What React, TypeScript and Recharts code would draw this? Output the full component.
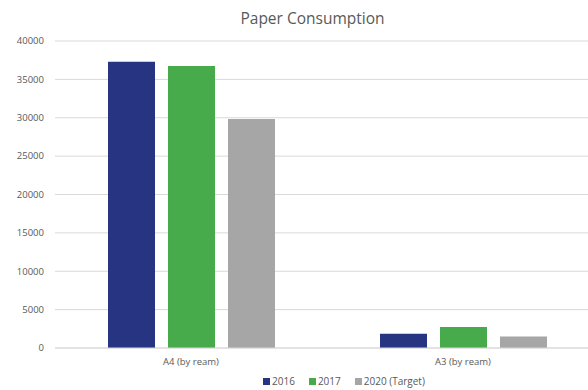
import React from 'react';
import { BarChart, Bar, XAxis, YAxis, CartesianGrid } from 'recharts';

const categories = ['A4 (by ream)', 'A3 (by ream)'];
const series2016 = [37300, 1850];
const series2017 = [36750, 2750];
const series2020 = [29850, 1500];
const yTicks = [0, 5000, 10000, 15000, 20000, 25000, 30000, 35000, 40000];
const seriesNames = ['2016', '2017', '2020 (Target)'];
const colors = ['#263482', '#47AB4B', '#A6A6A6'];

const data = categories.map((c, i) => ({
  cat: c,
  s2016: series2016[i],
  s2017: series2017[i],
  s2020: series2020[i],
}));

const FONT = '"Open Sans", "DejaVu Sans", sans-serif';

export default function App() {
  return (
    <div
      style={{
        position: 'absolute',
        left: 0,
        top: 0,
        width: 588,
        height: 390,
        overflow: 'hidden',
        background: '#ffffff',
        fontFamily: FONT,
      }}
    >
      <div
        style={{
          position: 'absolute',
          left: 0,
          top: 8,
          width: 625,
          textAlign: 'center',
          fontSize: 15.5,
          color: '#595959',
          fontFamily: FONT,
          lineHeight: '20px',
        }}
      >
        Paper Consumption
      </div>
      <BarChart
        width={610}
        height={390}
        data={data}
        margin={{ top: 41, right: 11, bottom: 22, left: 0 }}
        barSize={47}
        barGap={13}
      >
        <CartesianGrid vertical={false} stroke="#D9D9D9" />
        <XAxis
          dataKey="cat"
          tickLine={false}
          axisLine={{ stroke: '#D9D9D9' }}
          tick={{ fontSize: 9.5, fill: '#595959', fontFamily: FONT }}
          height={20}
          tickMargin={4}
        />
        <YAxis
          width={55}
          domain={[0, 40000]}
          ticks={yTicks}
          tickLine={false}
          axisLine={false}
          tick={{ fontSize: 9.5, fill: '#595959', fontFamily: FONT }}
          tickMargin={5}
          interval={0}
        />
        <Bar dataKey="s2016" name={seriesNames[0]} fill={colors[0]} isAnimationActive={false} />
        <Bar dataKey="s2017" name={seriesNames[1]} fill={colors[1]} isAnimationActive={false} />
        <Bar dataKey="s2020" name={seriesNames[2]} fill={colors[2]} isAnimationActive={false} />
      </BarChart>
      <div
        style={{
          position: 'absolute',
          left: 263,
          top: 374,
          display: 'flex',
          alignItems: 'center',
          fontSize: 10,
          color: '#595959',
          fontFamily: FONT,
          lineHeight: '14px',
        }}
      >
        {seriesNames.map((n, i) => (
          <div key={n} style={{ display: 'flex', alignItems: 'center', marginRight: 14 }}>
            <span
              style={{
                display: 'inline-block',
                width: 7,
                height: 7,
                background: colors[i],
                marginRight: 2,
              }}
            />
            <span>{n}</span>
          </div>
        ))}
      </div>
    </div>
  );
}
